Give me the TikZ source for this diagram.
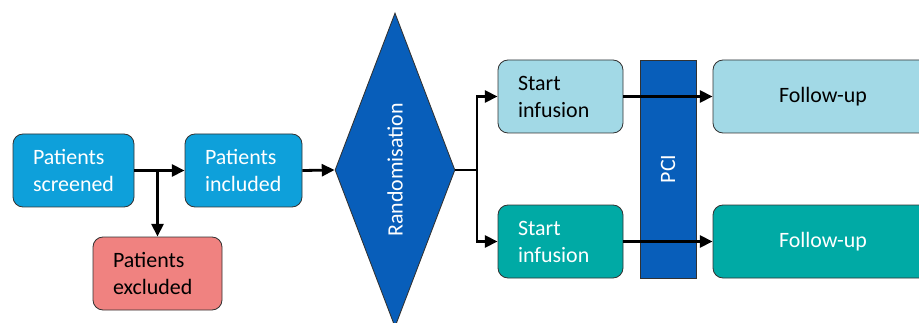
\documentclass[tikz,border=0pt]{standalone}
\usepackage{fontspec}
\setmainfont{Carlito}
\usepackage{xcolor}
\usepackage{graphicx}
\usepackage{tikz}
\usetikzlibrary{arrows.meta,shapes.geometric}

\definecolor{patblue}{RGB}{14,160,218}
\definecolor{lightblue}{RGB}{162,217,230}
\definecolor{tealgreen}{RGB}{0,170,165}
\definecolor{darkblue}{RGB}{8,94,186}
\definecolor{salmon}{RGB}{240,130,128}
\definecolor{edgegray}{RGB}{50,50,50}

\begin{document}
\begin{tikzpicture}
\tikzstyle{flowarrow}=[-{Triangle[length=0.32cm,width=0.3cm]},line width=0.07cm];
\tikzstyle{stepbox}=[rectangle,rounded corners=0.25cm,draw=edgegray,line width=0.6pt,minimum height=1.825cm,align=left,inner xsep=0.5cm,font=\fontsize{15.6pt}{19.2pt}\selectfont];
\useasboundingbox (0,0) rectangle (22.975,8.05);
% left part
\node[stepbox,fill=patblue,text=white,text width=2.025cm](screened) at (1.8375,3.7875){Patients\\screened};
\node[stepbox,fill=patblue,text=white,text width=1.925cm](included) at (6.0875,3.7875){Patients\\included};
\node[stepbox,fill=salmon,text=black,text width=2.225cm](excluded) at (3.9375,1.2125){Patients\\excluded};
\node[diamond,fill=darkblue,draw=edgegray,line width=0.6pt,aspect=0.38,inner sep=0pt,minimum width=3cm,minimum height=7.85cm,text=white,font=\fontsize{15.6pt}{19.2pt}\selectfont](rand) at (9.875,3.8){\rotatebox{90}{Randomisation}};
\coordinate (split) at (11.925,3.8);
% right part
\node[stepbox,fill=lightblue,text=black,text width=2.125cm](start1) at (14.0125,5.6375){Start\\infusion};
\node[stepbox,fill=tealgreen,text=white,text width=2.125cm](start2) at (14.0125,2.0125){Start\\infusion};
\node[rectangle,fill=darkblue,draw=edgegray,line width=0.6pt,minimum width=1.4cm,minimum height=5.45cm,text=white,font=\fontsize{15.6pt}{19.2pt}\selectfont](pci) at (16.7,3.825){\rotatebox{90}{PCI}};
\node[stepbox,fill=lightblue,text=black,minimum width=5.5cm,align=center](follow1) at (20.575,5.6375){Follow-up};
\node[stepbox,fill=tealgreen,text=white,minimum width=5.5cm,align=center](follow2) at (20.575,2.0125){Follow-up};
% arrows
\draw [flowarrow] (screened.east) -- (included.west);
\draw [flowarrow] (screened.east -| excluded.north) -- (excluded.north);
\draw [flowarrow] (included.east) -- (rand.west);
\draw [line width=0.07cm] (rand.east) -- (split);
\draw [flowarrow] (split) |- (start1.west);
\draw [flowarrow] (split) |- (start2.west);
\draw [flowarrow] (start1.east) -- (follow1.west);
\draw [flowarrow] (start2.east) -- (follow2.west);
\end{tikzpicture}
\end{document}
